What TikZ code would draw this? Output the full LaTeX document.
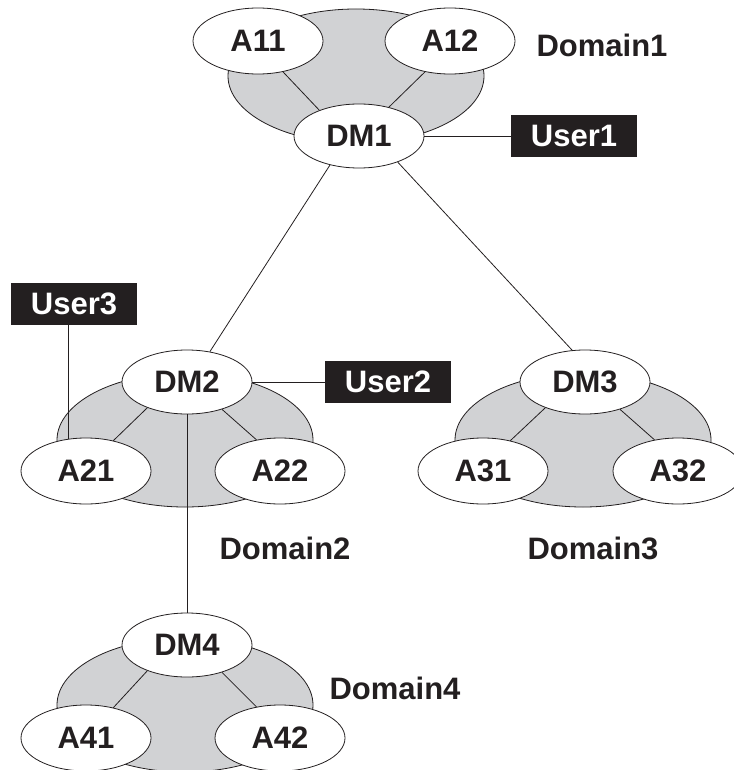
\documentclass[tikz,border=0pt]{standalone}
\usepackage{fontspec}
\setmainfont{Liberation Sans}
\usetikzlibrary{shapes.geometric}
\definecolor{domgray}{RGB}{209,210,212}
\definecolor{ink}{RGB}{35,31,32}
\begin{document}
\begin{tikzpicture}[x=1pt,y=-1pt,
  lab/.style={font=\fontsize{31}{33}\selectfont\bfseries},
  ell/.style={ellipse, draw=ink, fill=white, line width=0.8pt, minimum width=130pt, minimum height=66pt, inner sep=0pt, text=ink, lab},
  dmell/.style={ell, minimum height=64pt},
  domarea/.style={draw=ink, fill=domgray, line width=0.8pt},
  usr/.style={fill=ink, text=white, minimum width=126pt, minimum height=42pt, inner sep=0pt, lab},
  dlabel/.style={text=ink, inner sep=0pt, lab},
  ln/.style={draw=ink, line width=0.8pt}]
\useasboundingbox (0,0) rectangle (733,770);
% domain areas
\path[domarea] (356,76) ellipse [x radius=128pt, y radius=67pt];
\path[domarea] (185,440) ellipse [x radius=128pt, y radius=67pt];
\path[domarea] (583,440) ellipse [x radius=128pt, y radius=67pt];
\path[domarea] (185,705) ellipse [x radius=128pt, y radius=67pt];
% nodes
\node[ell] (A11) at (258,41) {A11};
\node[ell] (A12) at (450,41) {A12};
\node[dmell] (DM1) at (359,136) {DM1};
\node[dmell] (DM2) at (187,382) {DM2};
\node[ell] (A21) at (86,471) {A21};
\node[ell] (A22) at (280,471) {A22};
\node[dmell] (DM3) at (585,382) {DM3};
\node[ell] (A31) at (483,471) {A31};
\node[ell] (A32) at (678,471) {A32};
\node[dmell] (DM4) at (187,645) {DM4};
\node[ell] (A41) at (86,738) {A41};
\node[ell] (A42) at (280,738) {A42};
\node[usr] (User1) at (574,136) {User1};
\node[usr] (User2) at (388,382) {User2};
\node[usr] (User3) at (74,304) {User3};
\node[dlabel] (D1) at (602,45) {Domain1};
\node[dlabel] (D2) at (285,548) {Domain2};
\node[dlabel] (D3) at (593,548) {Domain3};
\node[dlabel] (D4) at (395,688) {Domain4};
% connectors
\path[ln] (A11.-51) -- (DM1.147);
\path[ln] (A12.231) -- (DM1.44);
\path[ln] (DM1.east) -- (User1.west);
\path[ln] (DM1.225) -- (DM2.53);
\path[ln] (DM1.326) -- (DM3.112);
\path[ln] (DM2.east) -- (User2.west);
\path[ln] (User3.south -| A21.118) -- (A21.118);
\path[ln] (DM2.south) -- (DM4.north);
\path[ln] (DM2.213) -- (A21.48);
\path[ln] (DM2.322) -- (A22.127);
\path[ln] (DM3.213) -- (A31.48);
\path[ln] (DM3.322) -- (A32.127);
\path[ln] (DM4.213) -- (A41.48);
\path[ln] (DM4.322) -- (A42.127);
\end{tikzpicture}
\end{document}
